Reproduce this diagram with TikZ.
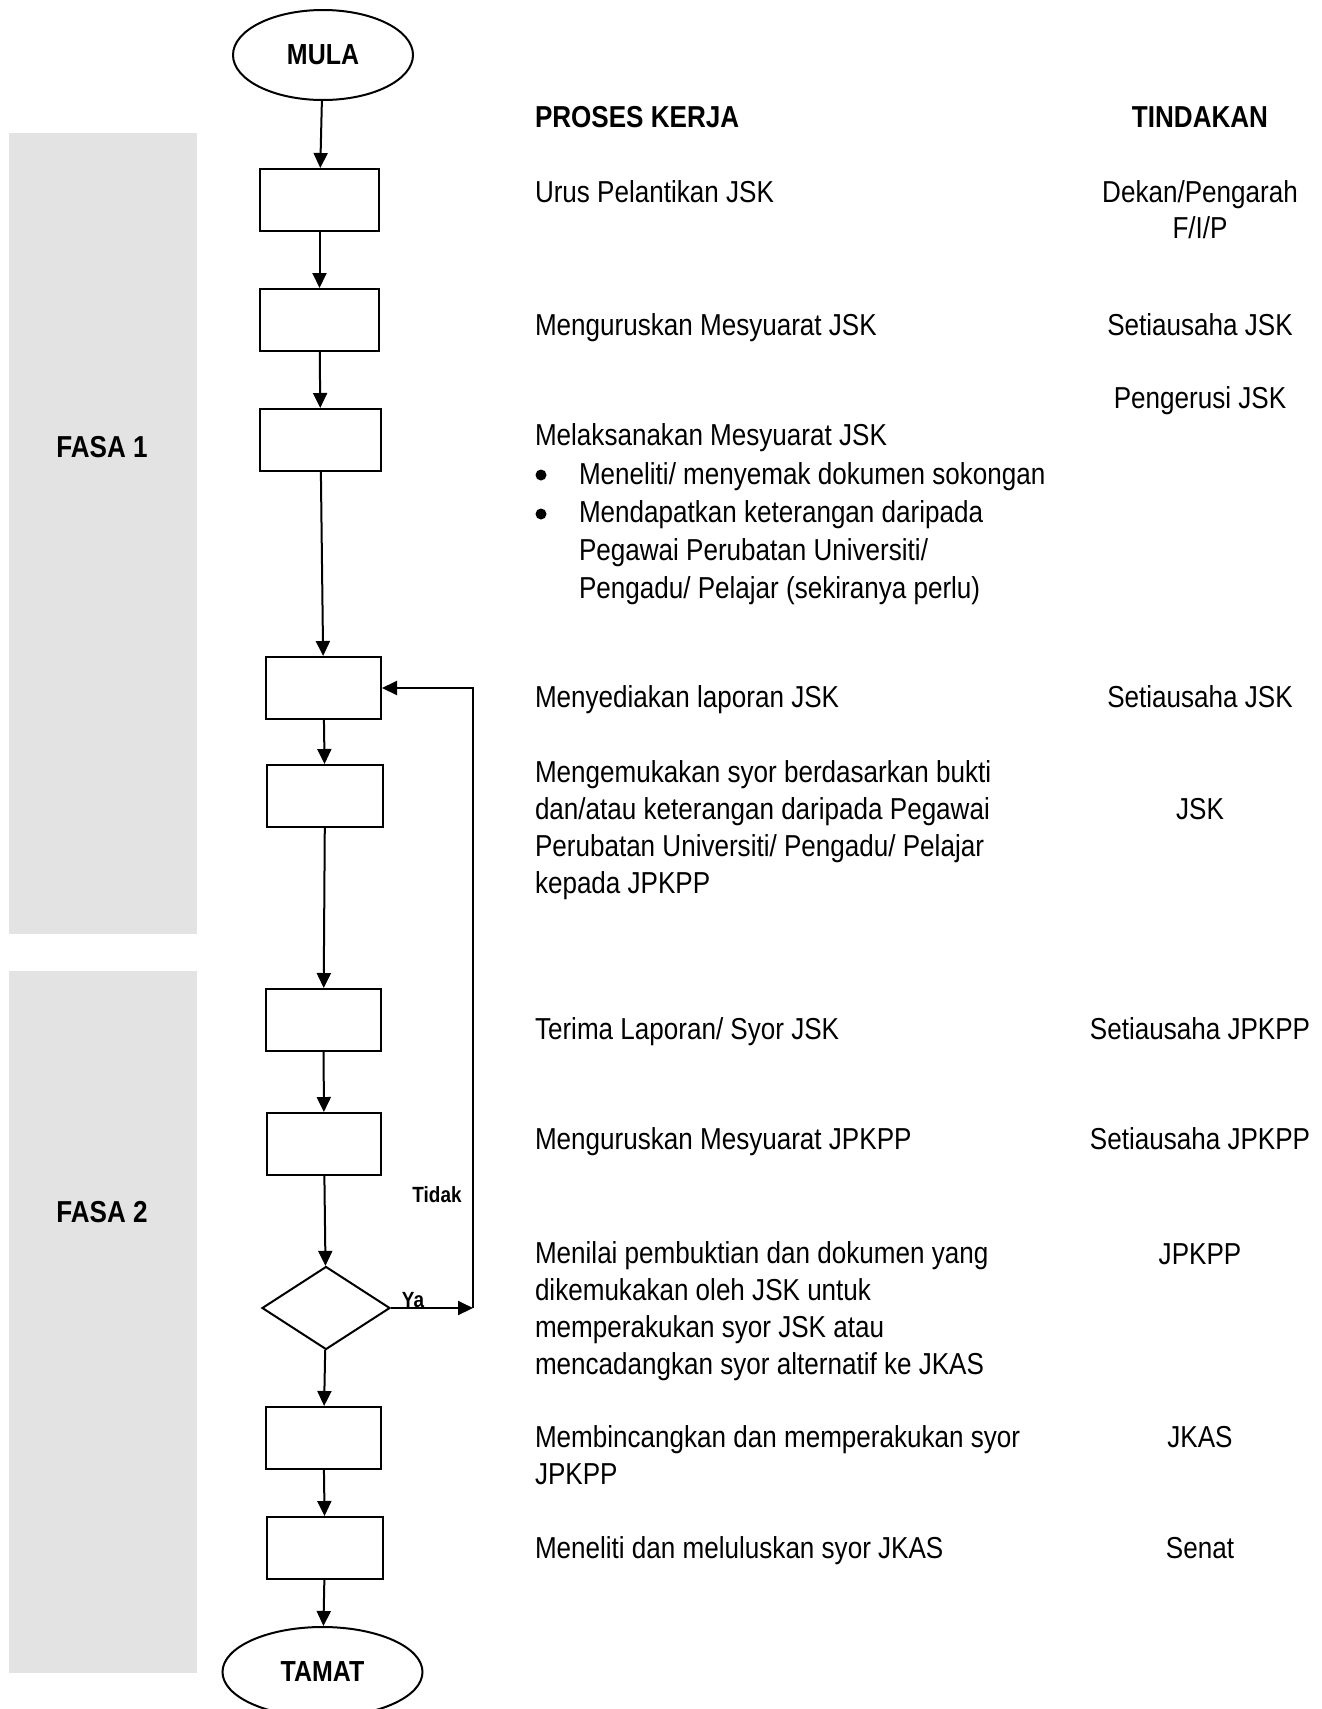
\documentclass[tikz,border=0pt]{standalone}
\usepackage{fontspec}
\setmainfont[FakeStretch=0.86]{Liberation Sans}
\usetikzlibrary{arrows.meta, shapes.geometric, positioning}
\definecolor{fasagrey}{HTML}{E3E3E3}

\tikzset{
  prosesbox/.style={draw, line width=1pt, minimum width=#1, minimum height=31pt, inner sep=0pt},
  prosesbox/.default=57.5pt,
  hujung/.style={draw, ellipse, line width=1pt, minimum height=45pt, inner sep=0pt, font=\fontsize{14.5}{16}\selectfont\bfseries},
  semakan/.style={draw, diamond, line width=1pt, minimum width=64pt, minimum height=41.5pt, inner sep=0pt},
  teks/.style={anchor=base west, align=left, inner sep=0pt, font=\fontsize{15.15}{18.4}\selectfont},
  titik/.style={circle, fill, inner sep=0pt, minimum size=5.5pt},
  tindak/.style={anchor=base, align=center, inner sep=0pt, font=\fontsize{15.15}{18}\selectfont},
  tajuk/.style={inner sep=0pt, font=\fontsize{15.15}{18}\selectfont\bfseries},
  label/.style={inner sep=0pt, font=\fontsize{11}{13}\selectfont\bfseries},
}

\begin{document}
\begin{tikzpicture}[x=0.5pt, y=-0.5pt, line width=1pt, >={Triangle[width=7pt,length=7.5pt]}]
\useasboundingbox (0,0) rectangle (1322,1709);

% Fasa panels
\fill[fasagrey] (9,133) rectangle (197,934);
\fill[fasagrey] (9,971) rectangle (197,1673);
\node[tajuk] (fasa1) at (102,447) {FASA 1};
\node[tajuk] (fasa2) at (102,1212) {FASA 2};

% Flow
\node[hujung, minimum width=90pt] (mula) at (323,55) {MULA};
\node[prosesbox=59.5pt] (p1) at (319.5,200) {};
\node[prosesbox=59.5pt] (p2) at (319.5,320) {};
\node[prosesbox=60.5pt] (p3) at (320.5,440) {};
\node[prosesbox] (p4) at (323.5,688) {};
\node[prosesbox=58pt] (p5) at (325,796) {};
\node[prosesbox] (p6) at (323.5,1020) {};
\node[prosesbox=57pt] (p7) at (324,1144) {};
\node[semakan] (semak) at (326,1308) {};
\node[prosesbox] (p8) at (323.5,1438) {};
\node[prosesbox=58pt] (p9) at (325,1548) {};
\node[hujung, minimum width=100pt] (tamat) at (322.5,1672) {TAMAT};

\draw[->] (mula) -- (p1);
\draw[->] (p1) -- (p2);
\draw[->] (p2) -- (p3);
\draw[->] (p3) -- (p4);
\draw[->] (p4) -- (p5);
\draw[->] (p5) -- (p6);
\draw[->] (p6) -- (p7);
\draw[->] (p7) -- (semak);
\draw[->] (semak) -- (p8);
\draw[->] (p8) -- (p9);
\draw[->] (p9) -- (tamat);

% Loop back
\coordinate (balik) at (473,1308);
\draw[->] (semak.east) -- (balik);
\draw[->] (balik) |- (p4.east);
\node[label] (ya) at (413,1300) {Ya};
\node[label] (tidak) at (437,1195) {Tidak};

% Headings
\node[tajuk, anchor=base west] (proses) at (534,127) {PROSES KERJA};
\node[tajuk, anchor=base] (tindakan) at (1200,127) {TINDAKAN};

% Proses kerja (multi-line nodes sit on the baseline of their last line)
\node[teks] (k1) at (534,202) {Urus Pelantikan JSK};
\node[teks] (k2) at (534,335) {Menguruskan Mesyuarat JSK};
\node[teks] (k3) at (534,445) {Melaksanakan Mesyuarat JSK};
\node[titik] (b1) at (541,475) {};
\node[teks] (k3a) at (578,484) {Meneliti/ menyemak dokumen sokongan};
\node[titik] (b2) at (541,514) {};
\node[teks, font=\fontsize{15.15}{18.8}\selectfont] (k3b) at (578,598) {Mendapatkan keterangan daripada\\Pegawai Perubatan Universiti/\\Pengadu/ Pelajar (sekiranya perlu)};
\node[teks] (k4) at (534,707) {Menyediakan laporan JSK};
\node[teks] (k5) at (534,893) {Mengemukakan syor berdasarkan bukti\\dan/atau keterangan daripada Pegawai\\Perubatan Universiti/ Pengadu/ Pelajar\\kepada JPKPP};
\node[teks] (k6) at (534,1039) {Terima Laporan/ Syor JSK};
\node[teks] (k7) at (534,1149) {Menguruskan Mesyuarat JPKPP};
\node[teks] (k8) at (534,1374) {Menilai pembuktian dan dokumen yang\\dikemukakan oleh JSK untuk\\memperakukan syor JSK atau\\mencadangkan syor alternatif ke JKAS};
\node[teks] (k9) at (534,1484) {Membincangkan dan memperakukan syor\\JPKPP};
\node[teks] (k10) at (534,1558) {Meneliti dan meluluskan syor JKAS};

% Tindakan
\node[tindak] (t1) at (1200,238) {Dekan/Pengarah\\F/I/P};
\node[tindak] (t2) at (1200,335) {Setiausaha JSK};
\node[tindak] (t3) at (1200,408) {Pengerusi JSK};
\node[tindak] (t4) at (1200,707) {Setiausaha JSK};
\node[tindak] (t5) at (1200,819) {JSK};
\node[tindak] (t6) at (1200,1039) {Setiausaha JPKPP};
\node[tindak] (t7) at (1200,1149) {Setiausaha JPKPP};
\node[tindak] (t8) at (1200,1264) {JPKPP};
\node[tindak] (t9) at (1200,1447) {JKAS};
\node[tindak] (t10) at (1200,1558) {Senat};
\end{tikzpicture}
\end{document}
